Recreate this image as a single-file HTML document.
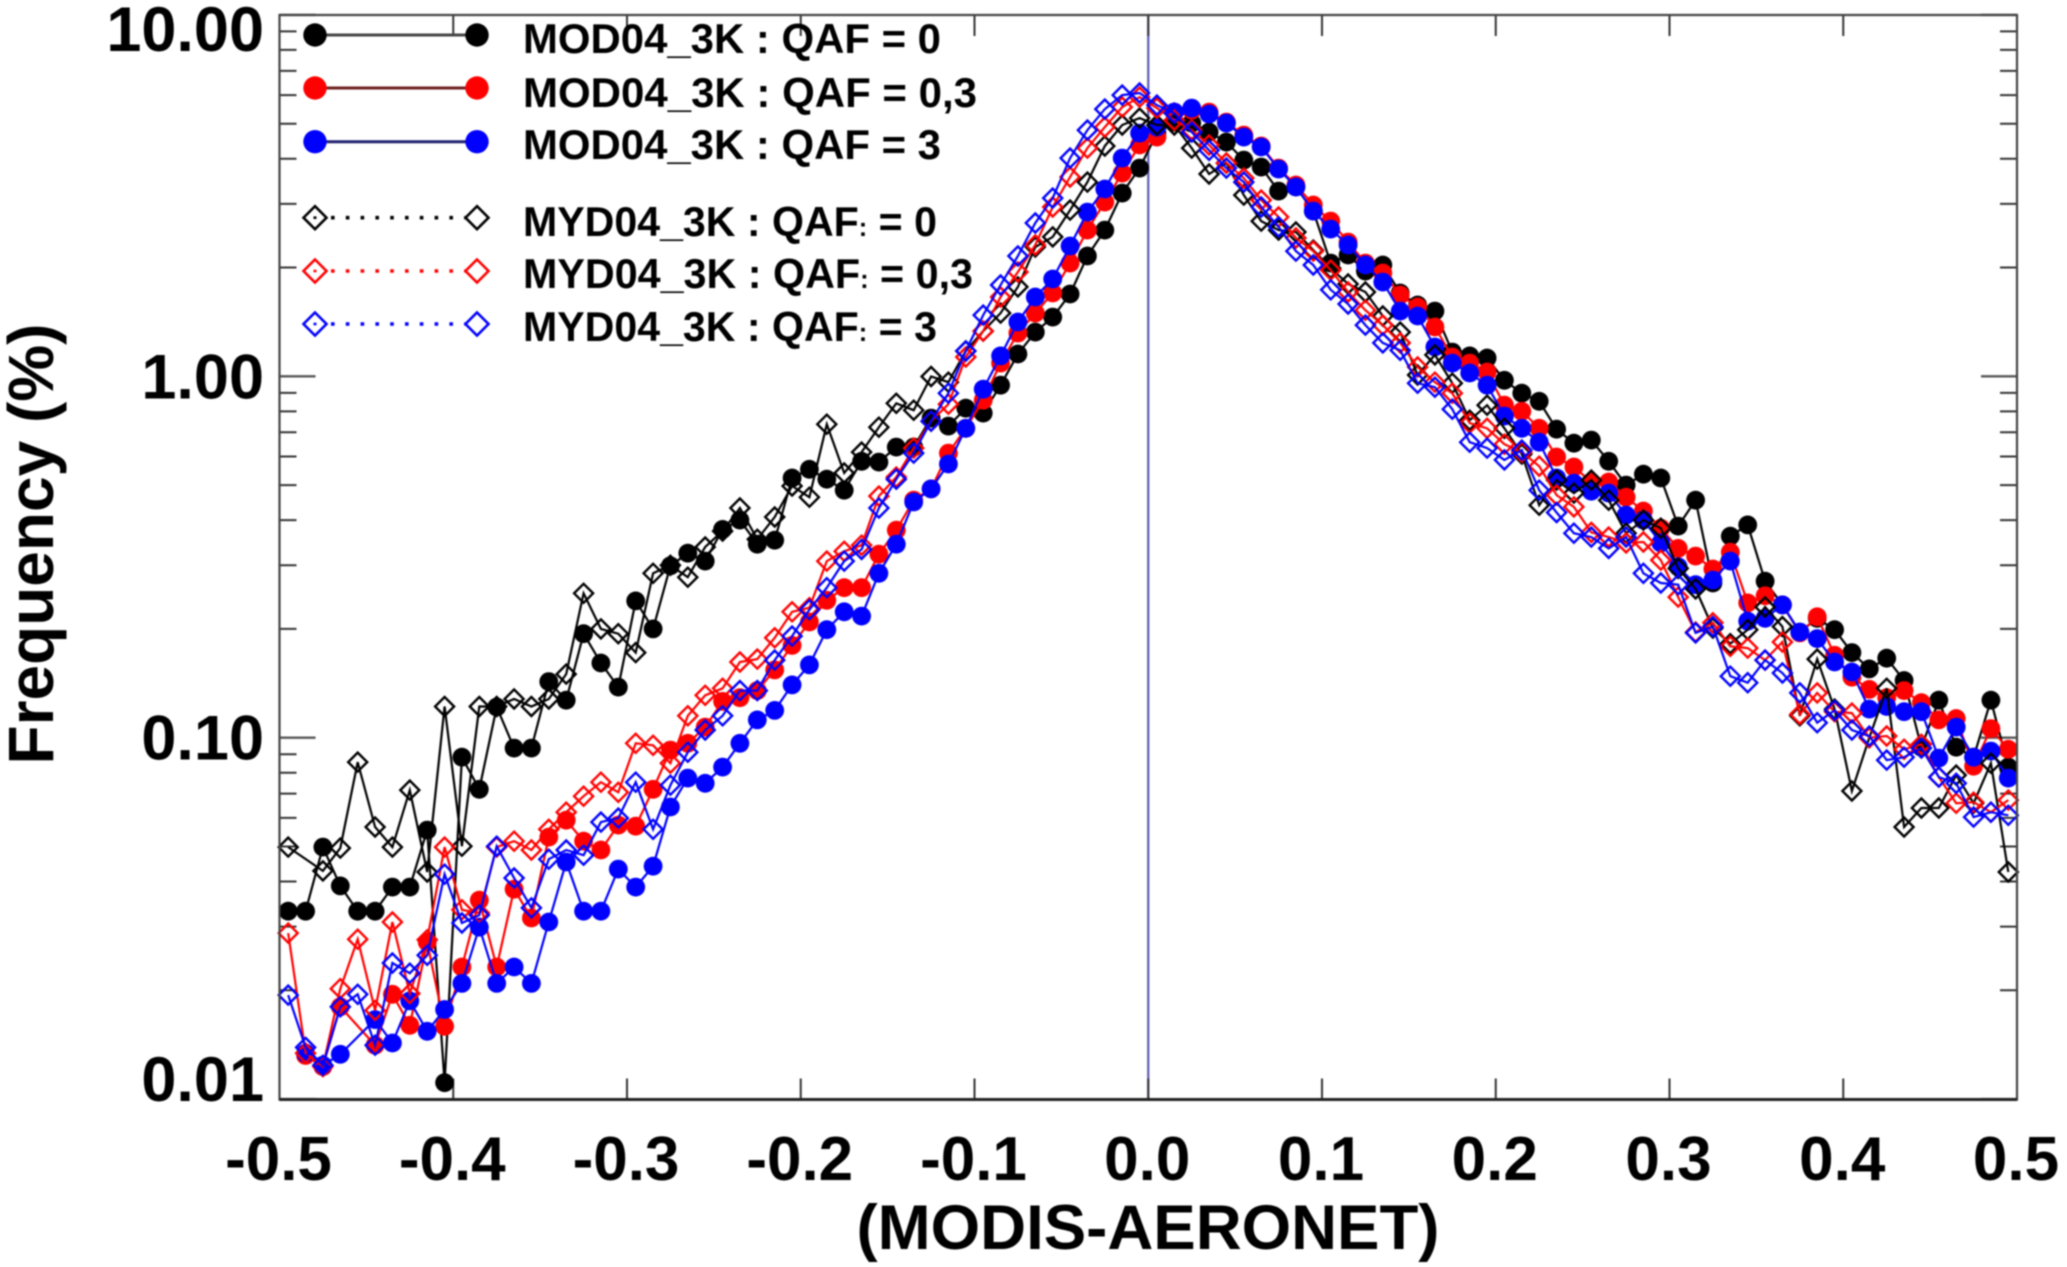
<!DOCTYPE html>
<html lang="en">
<head>
<meta charset="utf-8">
<title>Frequency of MODIS minus AERONET differences</title>
<style>
html,body{margin:0;padding:0;background:#fff;}
body{width:2067px;height:1267px;overflow:hidden;}
#chart{display:block;filter:blur(0.8px);}
text{font-family:"Liberation Sans",Arial,sans-serif;font-weight:bold;fill:#000;}
</style>
</head>
<body>
<svg id="chart" xmlns="http://www.w3.org/2000/svg" width="2067" height="1267" viewBox="0 0 2067 1267">
  <rect x="0" y="0" width="2067" height="1267" fill="#fff"/>
  <g id="axes"></g>
  <g id="series"></g>
  <g id="frame"></g>
  <g id="labels"></g>
  <text x="1148" y="1249" font-size="63" text-anchor="middle" textLength="583" lengthAdjust="spacingAndGlyphs">(MODIS-AERONET)</text>
  <text transform="translate(53,544) rotate(-90)" font-size="64" text-anchor="middle">Frequency (%)</text>
  <g>
    <line x1="315" y1="35" x2="477" y2="35" stroke="#444" stroke-width="3"/>
    <circle cx="315" cy="35" r="11.7" fill="#000"/>
    <circle cx="477" cy="35" r="11.7" fill="#000"/>
    <text x="523" y="53" font-size="42" textLength="418" lengthAdjust="spacingAndGlyphs">MOD04_3K : QAF = 0</text>
    <line x1="315" y1="88" x2="477" y2="88" stroke="#702020" stroke-width="3"/>
    <circle cx="315" cy="88" r="11.7" fill="#ff0000"/>
    <circle cx="477" cy="88" r="11.7" fill="#ff0000"/>
    <text x="523" y="107" font-size="42" textLength="454" lengthAdjust="spacingAndGlyphs">MOD04_3K : QAF = 0,3</text>
    <line x1="315" y1="141.7" x2="477" y2="141.7" stroke="#202070" stroke-width="3"/>
    <circle cx="315" cy="141.7" r="11.7" fill="#0000ff"/>
    <circle cx="477" cy="141.7" r="11.7" fill="#0000ff"/>
    <text x="523" y="159" font-size="42" textLength="418" lengthAdjust="spacingAndGlyphs">MOD04_3K : QAF = 3</text>

    <line x1="331" y1="217.7" x2="465" y2="217.7" stroke="#000" stroke-width="3.6" stroke-dasharray="3.6 11.2"/>
    <path d="M315 206.2L326.5 217.7L315 229.2L303.5 217.7Z M313.5 217.7h3" fill="none" stroke="#000" stroke-width="2.6"/>
    <path d="M477 206.2L488.5 217.7L477 229.2L465.5 217.7Z" fill="none" stroke="#000" stroke-width="2.6"/>
    <text x="523" y="236" font-size="42" textLength="414" lengthAdjust="spacingAndGlyphs">MYD04_3K : QAF<tspan font-size="26">:</tspan> = 0</text>
    <line x1="331" y1="271" x2="465" y2="271" stroke="#ff0000" stroke-width="3.6" stroke-dasharray="3.6 11.2"/>
    <path d="M315 259.5L326.5 271L315 282.5L303.5 271Z M313.5 271h3" fill="none" stroke="#ff0000" stroke-width="2.6"/>
    <path d="M477 259.5L488.5 271L477 282.5L465.5 271Z" fill="none" stroke="#ff0000" stroke-width="2.6"/>
    <text x="523" y="288" font-size="42" textLength="450" lengthAdjust="spacingAndGlyphs">MYD04_3K : QAF<tspan font-size="26">:</tspan> = 0,3</text>
    <line x1="331" y1="324" x2="465" y2="324" stroke="#0000ff" stroke-width="3.6" stroke-dasharray="3.6 11.2"/>
    <path d="M315 312.5L326.5 324L315 335.5L303.5 324Z M313.5 324h3" fill="none" stroke="#0000ff" stroke-width="2.6"/>
    <path d="M477 312.5L488.5 324L477 335.5L465.5 324Z" fill="none" stroke="#0000ff" stroke-width="2.6"/>
    <text x="523" y="341" font-size="42" textLength="414" lengthAdjust="spacingAndGlyphs">MYD04_3K : QAF<tspan font-size="26">:</tspan> = 3</text>
  </g>
</svg>
<script>
const binCenters = [-0.495,-0.485,-0.475,-0.465,-0.455,-0.445,-0.435,-0.425,-0.415,-0.405,-0.395,-0.385,-0.375,-0.365,-0.355,-0.345,-0.335,-0.325,-0.315,-0.305,-0.295,-0.285,-0.275,-0.265,-0.255,-0.245,-0.235,-0.225,-0.215,-0.205,-0.195,-0.185,-0.175,-0.165,-0.155,-0.145,-0.135,-0.125,-0.115,-0.105,-0.095,-0.085,-0.075,-0.065,-0.055,-0.045,-0.035,-0.025,-0.015,-0.005,0.005,0.015,0.025,0.035,0.045,0.055,0.065,0.075,0.085,0.095,0.105,0.115,0.125,0.135,0.145,0.155,0.165,0.175,0.185,0.195,0.205,0.215,0.225,0.235,0.245,0.255,0.265,0.275,0.285,0.295,0.305,0.315,0.325,0.335,0.345,0.355,0.365,0.375,0.385,0.395,0.405,0.415,0.425,0.435,0.445,0.455,0.465,0.475,0.485,0.495];

const modQaf0 = [.0331,.0331,.0498,.0389,.0331,.0331,.0386,.0386,.0555,.0111,.0883,.0720,.1216,.0936,.0936,.143,.127,.194,.161,.138,.239,.200,.299,.324,.308,.377,.400,.343,.352,.523,.553,.519,.484,.582,.579,.637,.637,.766,.728,.816,.791,.945,1.153,1.325,1.458,1.689,2.152,2.538,3.213,3.768,4.709,5.051,5.019,4.739,4.447,3.964,3.793,3.254,3.34,2.865,2.057,2.166,1.955,2.032,1.70,1.575,1.515,1.167,1.139,1.124,.975,.898,.853,.714,.653,.666,.582,.500,.536,.523,.385,.454,.268,.361,.388,.271,.233,.196,.214,.199,.172,.155,.166,.144,.0941,.127,.0941,.0883,.127,.0829];

const modQaf03 = [null,.0132,.0123,.0180,null,.0141,.0195,.0160,.0272,.0159,.0232,.0355,.0232,.0381,.0317,.0531,.0591,.0517,.0489,.0573,.0569,.0720,.0924,.0965,.107,.126,.129,.135,.154,.180,.209,.240,.260,.260,.322,.375,.454,.488,.613,.718,.859,1.088,1.317,1.496,1.70,2.057,2.538,3.034,3.65,4.364,4.59,5.383,5.451,5.383,5.051,4.65,4.337,3.768,3.383,2.978,2.688,2.352,2.057,1.931,1.679,1.555,1.369,1.131,1.088,1.028,.832,.800,.718,.598,.561,.510,.510,.463,.424,.380,.334,.318,.293,.326,.236,.247,.233,.195,.216,.169,.147,.136,.129,.135,.125,.112,.113,.0834,.106,.0929];

const modQaf3 = [null,.0134,.0124,.0133,null,.0166,.0143,.0187,.0154,.0177,.0209,.0299,.0209,.0232,.0209,.0309,.0453,.0331,.0331,.0433,.0386,.0441,.0643,.0773,.0748,.0829,.0965,.112,.119,.140,.159,.199,.223,.217,.285,.343,.449,.488,.572,.718,.921,1.139,1.413,1.657,1.859,2.293,2.847,3.298,4.016,4.709,4.894,5.383,5.522,5.316,5.019,4.59,4.309,3.745,3.34,2.865,2.555,2.308,2.032,1.823,1.515,1.468,1.205,1.088,1.021,.945,.776,.718,.657,.523,.506,.481,.475,.413,.400,.346,.297,.265,.273,.308,.210,.214,.233,.196,.188,.162,.152,.120,.122,.118,.118,.0878,.107,.0883,.0918,.0773];

const mydQaf0 = [.0498,null,.0428,.0495,.0856,.0566,.0498,.0716,.0425,.122,.0501,.122,.122,.128,.122,.128,.150,.251,.200,.194,.172,.285,.300,.278,.337,.373,.432,.354,.408,.497,.463,.737,.540,.617,.723,.842,.806,.999,.963,1.175,1.334,1.496,1.767,2.279,2.43,2.883,3.447,4.337,4.957,5.183,4.957,4.957,4.281,3.628,3.891,3.173,2.688,2.538,2.507,2.235,1.99,1.80,1.711,1.468,1.325,1.008,1.146,.957,.756,.832,.718,.609,.440,.516,.475,.516,.454,.368,.400,.380,.294,.258,.201,.182,.199,.230,.203,.115,.165,.120,.0712,.100,.137,.0566,.0639,.0639,.0788,.0659,.0850,.0425];

const mydQaf03 = [.0288,.0134,.0123,.0202,.0277,.0176,.0309,.0196,.0276,.0498,.0334,.0327,.0498,.0517,.0489,.0558,.0622,.0689,.0753,.0706,.0965,.0953,.0850,.115,.131,.137,.162,.165,.189,.223,.229,.308,.328,.341,.466,.526,.633,.751,.837,1.131,1.334,1.657,1.943,2.308,2.94,3.56,4.281,4.894,5.558,5.925,5.522,5.113,4.80,4.364,3.891,3.536,3.072,2.76,2.413,2.221,1.967,1.711,1.524,1.386,1.237,1.061,.963,.898,.742,.718,.649,.617,.564,.469,.435,.370,.359,.346,.348,.310,.245,.196,.208,.179,.177,.164,.184,.116,.133,.118,.117,.100,.1011,.0929,.0959,.0778,.0659,.0663,.0622,.0672];

const mydQaf3 = [.0194,.0139,.0124,.0180,.0195,.0141,.0238,.0223,.0250,.0419,.0307,.0323,.0501,.0409,.0338,.0461,.0489,.0473,.0584,.0599,.0753,.0558,.0739,.0912,.105,.115,.135,.135,.164,.191,.226,.260,.308,.332,.432,.519,.613,.751,.898,1.175,1.477,1.789,2.152,2.655,3.113,4.016,4.80,5.487,6.0,6.08,5.63,5.35,4.739,4.22,3.768,3.447,2.94,2.59,2.221,2.032,1.735,1.585,1.386,1.237,1.18,.957,.933,.811,.657,.633,.587,.625,.484,.420,.368,.359,.334,.359,.285,.268,.265,.195,.203,.148,.142,.164,.151,.133,.110,.119,.105,.101,.0867,.0883,.0936,.0778,.0748,.0603,.0622,.0610];

const xTickValues = [-0.5,-0.4,-0.3,-0.2,-0.1,0,0.1,0.2,0.3,0.4,0.5];
const xTickLabels = ["-0.5","-0.4","-0.3","-0.2","-0.1","0.0","0.1","0.2","0.3","0.4","0.5"];
const yTickValues = [0.01,0.1,1,10];
const yTickLabels = ["0.01","0.10","1.00","10.00"];
const yMinorValues = [0.02,0.03,0.04,0.05,0.06,0.07,0.08,0.09,0.2,0.3,0.4,0.5,0.6,0.7,0.8,0.9,2,3,4,5,6,7,8,9];

const NS = 'http://www.w3.org/2000/svg';
const PLOT = {left: 279.5, right: 2017, top: 15, bottom: 1099.5};
function xScale(v) { return PLOT.left + (v + 0.5) * (PLOT.right - PLOT.left); }
function yScale(v) { return 376.3 - 361.4 * Math.log10(v); }
function make(tag, parent) {
  const el = document.createElementNS(NS, tag);
  parent.appendChild(el);
  return el;
}
function setAll(el, attrs) {
  Object.keys(attrs).forEach(function (k) { el.setAttribute(k, attrs[k]); });
}

const axes = document.getElementById('axes');
const frame = document.getElementById('frame');
const labels = document.getElementById('labels');
const seriesLayer = document.getElementById('series');

/* zero reference line */
const zeroLine = make('line', axes);


setAll(zeroLine, {x1: xScale(0), x2: xScale(0), y1: PLOT.top, y2: PLOT.bottom, stroke: '#5a5ab4', 'stroke-width': 2.2});

/* x ticks + labels */
xTickValues.forEach(function (v, i) {
  const x = xScale(v);
  [[PLOT.bottom, PLOT.bottom - 21], [PLOT.top, PLOT.top + 21]].forEach(function (pair) {
    const t = make('line', axes);
    
    
    setAll(t, {x1: x, x2: x, y1: pair[0], y2: pair[1], stroke: '#333', 'stroke-width': 2});
  });
  const lab = make('text', labels);
  
  
  setAll(lab, {x: x - 1, y: 1180, 'font-size': 62, 'text-anchor': 'middle'});
  lab.textContent = xTickLabels[i];
});

/* y ticks + labels */
yTickValues.forEach(function (v, i) {
  const y = yScale(v);
  [[PLOT.left, PLOT.left + 36], [PLOT.right, PLOT.right - 36]].forEach(function (pair) {
    const t = make('line', axes);
    
    
    setAll(t, {x1: pair[0], x2: pair[1], y1: y, y2: y, stroke: '#555', 'stroke-width': 2.4});
  });
  const lab = make('text', labels);
  
  
  setAll(lab, {x: 264, y: i === 3 ? 51 : (i === 0 ? 1101 : y + 22), 'font-size': 63, 'text-anchor': 'end'});
  lab.textContent = yTickLabels[i];
});
yMinorValues.forEach(function (v) {
  const y = yScale(v);
  [[PLOT.left, PLOT.left + 17], [PLOT.right, PLOT.right - 17]].forEach(function (pair) {
    const t = make('line', axes);
    
    
    setAll(t, {x1: pair[0], x2: pair[1], y1: y, y2: y, stroke: '#333', 'stroke-width': 2});
  });
});

/* frame */
const box = make('path', frame);


setAll(box, {d: 'M' + PLOT.left + ' ' + PLOT.top + 'H' + PLOT.right + 'V' + PLOT.bottom + 'H' + PLOT.left + 'Z', fill: 'none', stroke: '#444', 'stroke-width': 2.2});
const bottomAxis = make('line', frame);


setAll(bottomAxis, {x1: PLOT.left, x2: PLOT.right, y1: PLOT.bottom, y2: PLOT.bottom, stroke: '#222', 'stroke-width': 3});

function drawLine(values, color, group) {
  const pts = [];
  values.forEach(function (v, i) {
    if (v !== null) pts.push(xScale(binCenters[i]).toFixed(1) + ',' + yScale(v).toFixed(1));
  });
  const line = make('polyline', group);
  
  
  setAll(line, {points: pts.join(' '), fill: 'none', stroke: color, 'stroke-width': 2.2});
}
function drawCircles(name, values, color) {
  const group = make('g', seriesLayer);
  
  
  drawLine(values, color, group);
  values.forEach(function (v, i) {
    if (v === null) return;
    const c = make('circle', group);
    
    
    setAll(c, {cx: xScale(binCenters[i]).toFixed(1), cy: yScale(v).toFixed(1), r: 9.4, fill: color});
  });
}
function drawDiamonds(name, values, color) {
  const group = make('g', seriesLayer);
  
  
  drawLine(values, color, group);
  values.forEach(function (v, i) {
    if (v === null) return;
    const x = xScale(binCenters[i]);
    const y = yScale(v);
    const r = 9.5;
    const d = make('path', group);
    
    
    setAll(d, {d: 'M' + x.toFixed(1) + ' ' + (y - r).toFixed(1) + 'l' + r + ' ' + r + 'l-' + r + ' ' + r + 'l-' + r + ' -' + r + 'Z', fill: 'none', stroke: color, 'stroke-width': 2.4});
  });
}

drawCircles('series-mod04-qaf0', modQaf0, '#000000');
drawCircles('series-mod04-qaf03', modQaf03, '#ff0000');
drawCircles('series-mod04-qaf3', modQaf3, '#0000ff');
drawDiamonds('series-myd04-qaf0', mydQaf0, '#000000');
drawDiamonds('series-myd04-qaf03', mydQaf03, '#ff0000');
drawDiamonds('series-myd04-qaf3', mydQaf3, '#0000ff');
</script>
</body>
</html>
